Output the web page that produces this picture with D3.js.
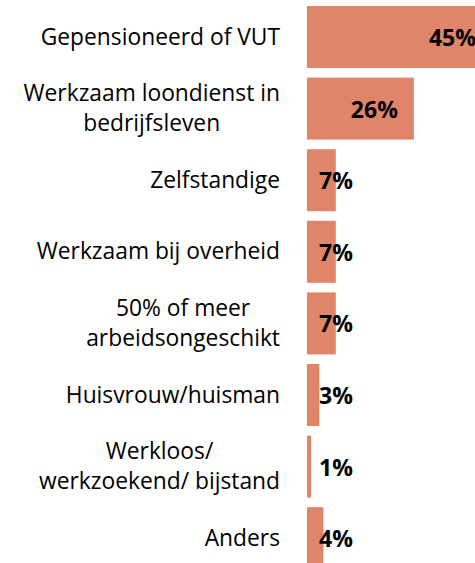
<!DOCTYPE html>
<html>
<head>
<meta charset="utf-8">
<script src="https://cdn.jsdelivr.net/npm/d3@7"></script>
<style>
  body { margin: 0; background: #fff; }
  svg { display: block; }
  .cat { font-family: "Open Sans", Lato, sans-serif; font-size: 22.8px; fill: #000; }
  .val { font-family: "Open Sans", Lato, sans-serif; font-size: 23px; font-weight: bold; fill: #000; }
</style>
</head>
<body>
<svg id="chart" width="475" height="563"></svg>
<script>
// categories (line breaks as in the original) and shares in %
var categories = [
  ['Gepensioneerd of VUT'],
  ['Werkzaam loondienst in', 'bedrijfsleven'],
  ['Zelfstandige'],
  ['Werkzaam bij overheid'],
  ['50% of meer', 'arbeidsongeschikt'],
  ['Huisvrouw/huisman'],
  ['Werkloos/', 'werkzoekend/ bijstand'],
  ['Anders']
];
var values = [45, 26, 7, 7, 7, 3, 1, 4];
var valueLabels = ['45%', '26%', '7%', '7%', '7%', '3%', '1%', '4%'];

var svg = d3.select('#chart');
var labelRight = 280, lineHeight = 30.5;

var x = d3.scaleLinear().domain([0, 45]).range([307, 492]);
var y = d3.scaleBand()
  .domain(d3.range(values.length))
  .range([1.2, 574])
  .paddingInner(0.134)
  .paddingOuter(0.067);

// bars
svg.append('g').selectAll('rect')
  .data(values)
  .join('rect')
    .attr('x', x(0))
    .attr('y', (d, i) => y(i))
    .attr('width', d => x(d) - x(0))
    .attr('height', y.bandwidth())
    .attr('fill', '#e0856a');

// category labels, lines centred on each other, block right-aligned
var cats = svg.append('g').selectAll('text')
  .data(categories)
  .join('text')
    .attr('class', 'cat')
    .attr('text-anchor', 'middle');

cats.each(function(lines, i) {
  var t = d3.select(this);
  var cy = y(i) + y.bandwidth() / 2;
  var first = cy - (lines.length - 1) * lineHeight / 2 + 7.5;
  var spans = lines.map((l, j) => t.append('tspan')
    .attr('y', first + j * lineHeight)
    .text(l));
  var w = d3.max(spans, s => s.node().getComputedTextLength());
  spans.forEach(s => s.attr('x', labelRight - w / 2));
});

// value labels near the end of each bar
svg.append('g').selectAll('text')
  .data(values)
  .join('text')
    .attr('class', 'val')
    .attr('text-anchor', 'end')
    .attr('y', (d, i) => y(i) + y.bandwidth() / 2 + 9)
    .text((d, i) => valueLabels[i])
    .attr('x', function(d) {
      var w = this.getComputedTextLength();
      return Math.max(x(d) - 16, x(0) + 12 + w);
    });
</script>
</body>
</html>
